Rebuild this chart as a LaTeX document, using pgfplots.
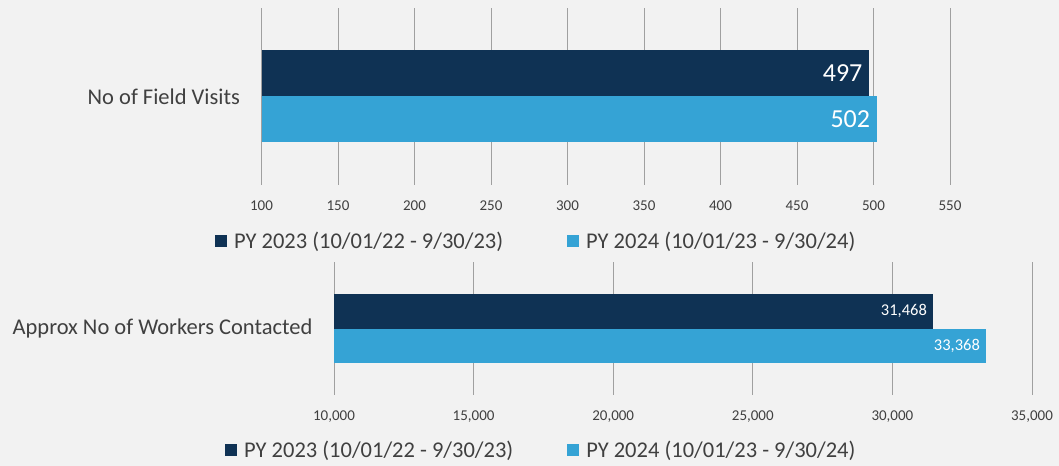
\documentclass[border=0pt]{standalone}
\usepackage{pgfplots}
\pgfplotsset{compat=1.18}
\usepackage{fontspec}
\setmainfont{Carlito}
\definecolor{bgc}{HTML}{F2F2F2}
\definecolor{darkbar}{HTML}{0F3254}
\definecolor{lightbar}{HTML}{35A3D5}
\definecolor{txt}{HTML}{404040}
\definecolor{gridc}{HTML}{A0A0A0}
\pgfplotsset{
  common/.style={
    scale only axis,
    xbar, bar width=#1,
    axis line style={draw=none},
    major tick length=0pt,
    xmajorgrids, grid style={draw=gridc, line width=0.8bp},
    ymin=-1, ymax=1, ytick={0},
    /pgf/number format/assume math mode=true,
    scaled x ticks=false,
    xticklabel style={font=\fontsize{15bp}{18bp}\selectfont, text=txt, yshift=-12bp},
    yticklabel style={font=\fontsize{22.5bp}{26bp}\selectfont, text=txt, xshift=-18bp},
    legend columns=2,
    legend cell align=left,
    legend style={draw=none, fill=none, font=\fontsize{22.5bp}{26bp}\selectfont, text=txt,
      /tikz/every even column/.append style={column sep=62bp}},
    legend image code/.code={\fill[##1] (0bp,-6bp) rectangle (12bp,6bp);},
    nodes near coords,
    every node near coord/.append style={anchor=east, text=white, xshift=-3bp},
  }
}
\begin{document}
\begin{tikzpicture}
\fill[bgc] (0,0) rectangle (1059bp,466bp);
% top chart
\begin{axis}[common=46bp,
  at={(261.5bp,281bp)}, anchor=south west,
  width=688.5bp, height=177bp,
  xmin=100, xmax=550, xtick={100,150,...,550},
  yticklabels={No of Field Visits},
  every node near coord/.append style={font=\fontsize{26bp}{30bp}\selectfont},
  legend style={at={(0.399,-0.316)}, anchor=center},
]
\addplot[fill=darkbar, draw=none, bar shift=23bp] coordinates {(497,0)};
\addlegendentry{\hspace{5bp}PY 2023 (10/01/22 - 9/30/23)}
\addplot[fill=lightbar, draw=none, bar shift=-23bp] coordinates {(502,0)};
\addlegendentry{\hspace{5bp}PY 2024 (10/01/23 - 9/30/24)}
\end{axis}
% bottom chart
\begin{axis}[common=34.5bp,
  at={(334bp,71bp)}, anchor=south west,
  width=698bp, height=133bp,
  xmin=10000, xmax=35000, xtick={10000,15000,...,35000},
  xticklabel style={/pgf/number format/.cd, 1000 sep={,}},
  yticklabels={Approx No of Workers Contacted},
  every node near coord/.append style={font=\fontsize{16.5bp}{20bp}\selectfont,
    /pgf/number format/1000 sep={,}},
  legend style={at={(0.297,-0.414)}, anchor=center,
    /tikz/every even column/.append style={column sep=52bp}},
]
\addplot[fill=darkbar, draw=none, bar shift=17.25bp] coordinates {(31468,0)};
\addlegendentry{\hspace{5bp}PY 2023 (10/01/22 - 9/30/23)}
\addplot[fill=lightbar, draw=none, bar shift=-17.25bp] coordinates {(33368,0)};
\addlegendentry{\hspace{5bp}PY 2024 (10/01/23 - 9/30/24)}
\end{axis}
\pgfresetboundingbox
\useasboundingbox (0,0) rectangle (1059bp,466bp);
\end{tikzpicture}
\end{document}
